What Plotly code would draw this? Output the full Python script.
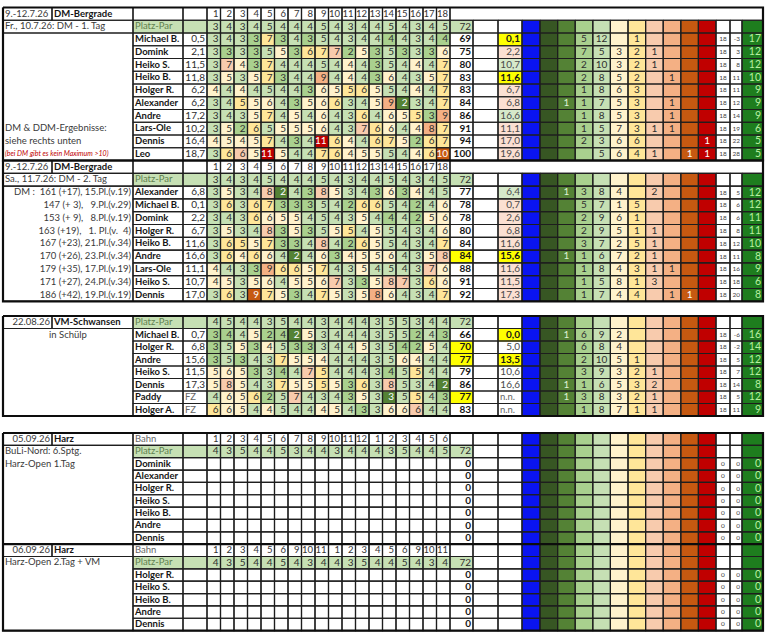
import plotly.graph_objects as go

NBSP = "\u00a0"
FONT = "Lato"

# ---------------- values ----------------
holes_dm = ["1", "2", "3", "4", "5", "6", "7", "8", "9", "10", "11", "12", "13", "14", "15", "16", "17", "18"]
par_dm = [3, 4, 3, 4, 5, 4, 4, 4, 5, 4, 3, 4, 4, 5, 4, 3, 4, 5]

# DM Bergrade, 1. Tag
day1_date = "9.-12.7.26"
day1_event = "DM-Bergrade"
day1_label = "Fr., 10.7.26: DM - 1. Tag"
day1_notes = ["DM & DDM-Ergebnisse:", "siehe rechts unten", "(bei DM gibt es kein Maximum >10)"]
day1_names = ["Michael B.", "Domink", "Heiko S.", "Heiko B.", "Holger R.",
              "Alexander", "Andre", "Lars-Ole", "Dennis", "Leo"]
day1_hcp = ["0,5", "2,1", "11,5", "11,8", "6,2", "6,2", "17,2", "10,2", "16,4", "18,7"]
day1_scores = [
    [3, 4, 3, 3, 7, 3, 4, 3, 5, 4, 3, 4, 4, 4, 4, 3, 4, 4],
    [3, 3, 3, 3, 5, 5, 3, 6, 7, 7, 2, 5, 3, 5, 3, 3, 3, 6],
    [3, 7, 4, 3, 7, 4, 4, 4, 5, 4, 4, 4, 3, 5, 4, 4, 4, 7],
    [3, 5, 3, 5, 7, 3, 4, 4, 9, 4, 4, 4, 3, 6, 4, 3, 5, 7],
    [4, 4, 4, 4, 5, 4, 4, 3, 6, 5, 5, 6, 5, 5, 4, 4, 4, 7],
    [3, 4, 5, 5, 6, 4, 3, 5, 6, 6, 3, 4, 5, 9, 2, 3, 4, 7],
    [3, 4, 3, 5, 7, 4, 5, 4, 6, 4, 3, 6, 4, 6, 5, 5, 3, 9],
    [3, 5, 2, 6, 5, 5, 5, 5, 6, 4, 3, 7, 6, 6, 4, 4, 8, 7],
    [4, 5, 4, 5, 7, 4, 3, 4, 11, 6, 4, 4, 6, 7, 5, 2, 6, 7],
    [3, 6, 6, 5, 11, 5, 4, 4, 7, 6, 4, 5, 5, 5, 4, 4, 6, 10],
]
day1_total = [69, 75, 80, 83, 83, 84, 86, 91, 94, 100]
day1_net = ["0,1", "2,2", "10,7", "11,6", "6,7", "6,8", "16,6", "11,1", "17,0", "19,6"]
# counts per column: HIO, Albatros, Eagle, Birdie, Par, Bogey, +2, +3, +4, +5, +6
day1_dist = [
    [None, None, None, 5, 12, None, 1, None, None, None, None],
    [None, None, None, 7, 5, 3, 2, 1, None, None, None],
    [None, None, None, 2, 10, 3, 2, 1, None, None, None],
    [None, None, None, 2, 8, 5, 2, None, 1, None, None],
    [None, None, None, 1, 8, 6, 3, None, None, None, None],
    [None, None, 1, 1, 7, 5, 3, None, 1, None, None],
    [None, None, None, 1, 8, 5, 3, None, 1, None, None],
    [None, None, None, 1, 5, 7, 3, 1, 1, None, None],
    [None, None, None, 2, 3, 6, 6, None, None, None, 1],
    [None, None, None, None, 5, 6, 4, 1, None, 1, 1],
]
day1_played = [18, 18, 18, 18, 18, 18, 18, 18, 18, 18]
day1_topar = [-3, 3, 8, 11, 11, 12, 14, 19, 22, 28]
day1_points = [17, 12, 12, 10, 9, 9, 9, 6, 5, 5]

# DM Bergrade, 2. Tag
day2_date = "9.-12.7.26"
day2_event = "DM-Bergrade"
day2_label = "Sa., 11.7.26: DM - 2. Tag"
day2_dm = ["DM :  161 (+17), 15.Pl.(v.19)", "147 (+ 3),   9.Pl.(v.29)", "153 (+ 9),   8.Pl.(v.19)",
           "163 (+19),   1. Pl.(v.  4)", "167 (+23), 21.Pl.(v.34)", "170 (+26), 23.Pl.(v.34)",
           "179 (+35), 17.Pl.(v.19)", "171 (+27), 24.Pl.(v.34)", "186 (+42), 19.Pl.(v.19)"]
day2_names = ["Alexander", "Michael B.", "Domink", "Holger R.", "Heiko B.",
              "Andre", "Lars-Ole", "Heiko S.", "Dennis"]
day2_hcp = ["6,8", "0,1", "2,2", "6,7", "11,6", "16,6", "11,1", "10,7", "17,0"]
day2_scores = [
    [3, 5, 3, 4, 8, 2, 4, 3, 8, 5, 3, 4, 3, 6, 3, 4, 4, 5],
    [3, 6, 3, 6, 7, 3, 3, 3, 5, 4, 2, 6, 6, 5, 4, 2, 4, 6],
    [3, 4, 3, 6, 6, 5, 5, 4, 5, 4, 3, 5, 4, 4, 4, 2, 5, 6],
    [3, 5, 3, 4, 8, 3, 5, 3, 5, 5, 5, 4, 5, 5, 4, 3, 4, 6],
    [3, 6, 5, 5, 7, 3, 3, 4, 8, 4, 2, 6, 5, 5, 4, 3, 4, 7],
    [3, 6, 4, 6, 6, 4, 2, 4, 6, 3, 4, 5, 5, 6, 4, 3, 5, 8],
    [4, 4, 3, 3, 9, 6, 6, 5, 7, 4, 3, 5, 4, 5, 4, 3, 7, 6],
    [4, 5, 3, 5, 6, 4, 5, 5, 6, 7, 3, 3, 5, 8, 7, 3, 6, 6],
    [3, 6, 3, 9, 7, 5, 3, 4, 7, 5, 3, 5, 8, 6, 4, 3, 4, 7],
]
day2_total = [77, 78, 78, 80, 84, 84, 88, 91, 92]
day2_net = ["6,4", "0,7", "2,6", "6,8", "11,6", "15,6", "11,6", "11,5", "17,3"]
day2_dist = [
    [None, None, 1, 3, 8, 4, None, 2, None, None, None],
    [None, None, None, 5, 7, 1, 5, None, None, None, None],
    [None, None, None, 2, 9, 6, 1, None, None, None, None],
    [None, None, None, 2, 9, 5, 1, 1, None, None, None],
    [None, None, None, 3, 7, 2, 5, 1, None, None, None],
    [None, None, 1, 1, 6, 7, 2, 1, None, None, None],
    [None, None, None, 1, 8, 4, 3, 1, 1, None, None],
    [None, None, None, 1, 5, 8, 1, 3, None, None, None],
    [None, None, None, 1, 7, 4, 4, None, 1, 1, None],
]
day2_played = [18, 18, 18, 18, 18, 18, 18, 18, 18]
day2_topar = [5, 6, 6, 8, 12, 11, 16, 18, 20]
day2_points = [12, 12, 11, 11, 10, 8, 9, 6, 8]

# VM Schwansen
vm_date = "22.08.26"
vm_event = "VM-Schwansen"
vm_place = "in Schülp"
par_vm = [4, 5, 4, 4, 3, 5, 4, 4, 3, 4, 4, 4, 3, 5, 5, 3, 4, 4]
vm_names = ["Michael B.", "Holger R.", "Andre", "Heiko S.", "Dennis", "Paddy", "Holger A."]
vm_hcp = ["0,7", "6,8", "15,6", "11,5", "17,3", "FZ", "FZ"]
vm_scores = [
    [3, 4, 4, 5, 2, 4, 2, 5, 3, 4, 4, 4, 3, 5, 5, 2, 4, 3],
    [3, 5, 5, 3, 4, 5, 3, 3, 3, 4, 4, 5, 3, 5, 4, 2, 5, 4],
    [3, 5, 3, 4, 3, 7, 5, 5, 4, 4, 4, 4, 3, 5, 6, 4, 4, 4],
    [5, 6, 5, 3, 3, 4, 4, 7, 5, 4, 4, 4, 3, 4, 5, 5, 4, 4],
    [5, 8, 5, 4, 3, 7, 5, 5, 5, 5, 3, 6, 3, 8, 5, 3, 4, 2],
    [4, 6, 5, 6, 2, 5, 7, 4, 3, 4, 3, 5, 3, 3, 5, 5, 4, 3],
    [6, 6, 5, 4, 4, 5, 4, 4, 4, 5, 4, 3, 3, 6, 6, 6, 4, 4],
]
vm_total = [66, 70, 77, 79, 86, 77, 83]
vm_net = ["0,0", "5,0", "13,5", "10,6", "16,6", "n.n.", "n.n."]
vm_dist = [
    [None, None, 1, 6, 9, 2, None, None, None, None, None],
    [None, None, None, 6, 8, 4, None, None, None, None, None],
    [None, None, None, 2, 10, 5, 1, None, None, None, None],
    [None, None, None, 3, 9, 3, 2, 1, None, None, None],
    [None, None, 1, 1, 6, 5, 3, 2, None, None, None],
    [None, None, 1, 3, 8, 3, 2, 1, None, None, None],
    [None, None, None, 1, 8, 7, 1, 1, None, None, None],
]
vm_played = [18, 18, 18, 18, 18, 18, 18]
vm_topar = [-6, -2, 5, 7, 14, 5, 11]
vm_points = [16, 14, 12, 12, 8, 12, 9]

# Harz, day 1 and day 2 (not played yet)
harz1_date = "05.09.26"
harz1_lines = ["BuLi-Nord: 6.Sptg.", "Harz-Open 1.Tag"]
harz1_holes = ["1", "2", "3", "4", "5", "6", "7", "8", "9", "10", "11", "12", "1", "2", "3", "4", "5", "6"]
harz1_par = [4, 3, 5, 4, 4, 5, 3, 4, 4, 3, 4, 4, 4, 3, 5, 4, 4, 5]
harz1_names = ["Dominik", "Alexander", "Holger R.", "Heiko S.", "Heiko B.", "Andre", "Dennis"]
harz2_date = "06.09.26"
harz2_lines = ["Harz-Open 2.Tag + VM"]
harz2_holes = ["1", "2", "3", "4", "5", "6", "9", "10", "11", "1", "2", "3", "4", "5", "6", "9", "10", "11"]
harz2_par = [4, 3, 5, 4, 4, 5, 4, 3, 4, 4, 3, 5, 4, 4, 5, 4, 3, 4]
harz2_names = ["Holger R.", "Heiko S.", "Heiko B.", "Andre", "Dennis"]
harz_event = "Harz"

# highlight styles (conditional formats in the sheet)
day1_net_mark = ["y", "p", "g", "y", "p", "p", "g", "p", "p", "p"]
day2_net_mark = ["g", "p", "p", "p", "p", "y", "p", "p", "p"]
day2_total_mark = ["w", "w", "w", "w", "w", "y", "w", "w", "w"]
vm_net_mark = ["y", "w", "y", "w", "w", "w", "w"]
vm_total_mark = ["w", "y", "y", "w", "w", "y", "w"]

# ---------------- styling ----------------
WHITE = "#ffffff"
PAR_FILL = "#c6e0b4"
SCORE_FILL = {-3: "#375623", -2: "#548235", -1: "#a9d08e", 0: "#c6e0b4", 1: "#fff2cc",
              2: "#ffe699", 3: "#f8cbad", 4: "#f4b084", 5: "#c65911", 6: "#c00000"}
LEGEND_FILL = ["#0a14f0", "#375623", "#548235", "#a9d08e", "#c6e0b4", "#fff2cc",
               "#ffe699", "#f8cbad", "#f4b084", "#c65911", "#c00000"]
PTS_FILL = "#1e7d1e"
MARK_FILL = {"y": "#ffff00", "p": "#fbe0d2", "g": "#d6e9ca", "w": WHITE}

STYLES = {
    "n": dict(color="#2e2e2e", size=10),
    "b": dict(color="#161616", size=9.5, weight="bold"),
    "tot": dict(color="#161616", size=10, weight="bold"),
    "hdr": dict(color="#333333", size=9.5),
    "pp": dict(color="#5f7f4f", size=9.5),
    "gray": dict(color="#666666", size=9.5),
    "lbl": dict(color="#3a3a3a", size=9.5),
    "w": dict(color="#ffffff", size=10),
    "net": dict(color="#4a4a4a", size=10),
    "netb": dict(color="#161616", size=10, weight="bold"),
    "sm": dict(color="#444444", size=6.5),
    "pts": dict(color="#b8f0a0", size=10.5),
    "dl": dict(color="#dff2d4", size=10),
    "red": dict(color="#c00000", size=7, style="italic"),
}

# column widths (px) : date, event, name, hcp, 18 holes, total, blank, net, legend..., holes, +/-, points
col_w = [49, 81, 50, 24] + [13.5] * 18 + [23, 25, 24, 18] + [17.6] * 10 + [14, 12, 21]
x_edges = [3.0]
for w in col_w:
    x_edges.append(x_edges[-1] + w)
NC = len(col_w)
C_NAME, C_HCP, C_H1, C_TOT, C_BLANK, C_NET, C_LEG, C_N, C_TP, C_PTS = 2, 3, 4, 22, 23, 24, 25, 36, 37, 38

row_h = []


def block(n, h):
    start = len(row_h)
    row_h.extend([h] * n)
    return start


s1 = block(12, 12.75)
s2 = block(11, 12.8)
block(1, 14.7)
s3 = block(8, 12.5)
block(1, 17.0)
s4 = block(16, 12.35)
y_edges = [7.5]
for h in row_h:
    y_edges.append(y_edges[-1] + h)

palette = []
z = [[None] * NC for _ in row_h]
thin = ([], [])
thick = ([], [])
texts = {}


def rect(store, r0, r1, c0, c1):
    x0, x1 = x_edges[c0], x_edges[c1 + 1]
    y0, y1 = y_edges[r0], y_edges[r1 + 1]
    store[0].extend([x0, x1, x1, x0, x0, None])
    store[1].extend([y0, y0, y1, y1, y0, None])


def put_text(r, c0, c1, txt, align="r", style="n"):
    y = (y_edges[r] + y_edges[r + 1]) / 2 + 0.4
    if align == "l":
        x = x_edges[c0] + 2
    elif align == "r":
        x = x_edges[c1 + 1] - 2
    else:
        x = (x_edges[c0] + x_edges[c1 + 1]) / 2
    texts.setdefault((style, align), []).append((x, y, txt.replace(" ", NBSP)))


def cell(r, c, fill, txt=None, align="r", style="n", r1=None, c1=None):
    r1 = r if r1 is None else r1
    c1 = c if c1 is None else c1
    if fill not in palette:
        palette.append(fill)
    k = palette.index(fill)
    for rr in range(r, r1 + 1):
        for cc in range(c, c1 + 1):
            z[rr][cc] = k
    rect(thin, r, r1, c, c1)
    if txt is not None:
        put_text(r, c, c1, str(txt), align, style)


def right_block(r, total=None, total_fill=WHITE, total_style="tot", net=None, net_fill=WHITE,
                dist=None, played=None, topar=None, pts=None):
    cell(r, C_TOT, total_fill, total, style=total_style)
    cell(r, C_BLANK, WHITE)
    if net is not None and not net[0].isdigit():
        cell(r, C_NET, net_fill, net, align="l", style="gray")
    else:
        cell(r, C_NET, net_fill, net, style="netb" if net_fill == MARK_FILL["y"] else "net")
    for k, col in enumerate(LEGEND_FILL):
        v = dist[k] if dist else None
        st = "dl" if k in (1, 2) else ("w" if k in (0, 9, 10) else "n")
        cell(r, C_LEG + k, col, v, align="c", style=st)
    cell(r, C_N, WHITE, played, align="c", style="sm")
    cell(r, C_TP, WHITE, topar, align="r", style="sm")
    cell(r, C_PTS, PTS_FILL, pts, align="r", style="pts")


def header_row(r, labels, merged_right, label=None):
    cell(r, C_NAME, WHITE, label, align="l", style="gray")
    cell(r, C_HCP, WHITE)
    for i, lab in enumerate(labels):
        cell(r, C_H1 + i, WHITE, lab, style="hdr")
    if merged_right:
        cell(r, C_TOT, WHITE, c1=C_PTS)
    else:
        right_block(r)


def par_row(r, par):
    cell(r, C_NAME, PAR_FILL, "Platz-Par", align="l", style="pp")
    cell(r, C_HCP, PAR_FILL)
    for i, p in enumerate(par):
        cell(r, C_H1 + i, PAR_FILL, p)
    right_block(r, total=sum(par), total_fill=PAR_FILL, total_style="n")


def player_row(r, name, hcp, scores, par, total, total_fill, net, net_fill, dist, played, topar, pts):
    cell(r, C_NAME, WHITE, name, align="l", style="b")
    if hcp is None or hcp[0].isdigit():
        cell(r, C_HCP, WHITE, hcp, style="n")
    else:
        cell(r, C_HCP, WHITE, hcp, align="l", style="gray")
    for i in range(18):
        s = scores[i] if scores else None
        if s is None:
            cell(r, C_H1 + i, WHITE)
        else:
            d = max(-3, min(6, s - par[i]))
            cell(r, C_H1 + i, SCORE_FILL[d], s, style="w" if (d <= -2 or d >= 5) else "n")
    right_block(r, total, total_fill, "tot", net, net_fill, dist, played, topar, pts)


# --- section 1: DM day 1
cell(s1, 0, WHITE, day1_date, align="l", style="lbl")
cell(s1, 1, WHITE, day1_event, align="l", style="b")
header_row(s1, holes_dm, True)
cell(s1 + 1, 0, WHITE, day1_label, align="l", style="lbl", c1=1)
par_row(s1 + 1, par_dm)
cell(s1 + 2, 0, WHITE, r1=s1 + 11, c1=1)
put_text(s1 + 9, 0, 1, day1_notes[0], "l", "lbl")
put_text(s1 + 10, 0, 1, day1_notes[1], "l", "lbl")
put_text(s1 + 11, 0, 1, day1_notes[2], "l", "red")
for i, nm in enumerate(day1_names):
    player_row(s1 + 2 + i, nm, day1_hcp[i], day1_scores[i], par_dm, day1_total[i], WHITE,
               day1_net[i], MARK_FILL[day1_net_mark[i]], day1_dist[i],
               day1_played[i], day1_topar[i], day1_points[i])
rect(thick, s1, s1 + 11, 0, NC - 1)

# --- section 2: DM day 2
cell(s2, 0, WHITE, day2_date, align="l", style="lbl")
cell(s2, 1, WHITE, day2_event, align="l", style="b")
header_row(s2, holes_dm, True)
cell(s2 + 1, 0, WHITE, day2_label, align="l", style="lbl", c1=1)
par_row(s2 + 1, par_dm)
cell(s2 + 2, 0, WHITE, r1=s2 + 10, c1=1)
for i, line in enumerate(day2_dm):
    put_text(s2 + 2 + i, 0, 1, line, "r", "lbl")
for i, nm in enumerate(day2_names):
    player_row(s2 + 2 + i, nm, day2_hcp[i], day2_scores[i], par_dm, day2_total[i],
               MARK_FILL[day2_total_mark[i]], day2_net[i], MARK_FILL[day2_net_mark[i]],
               day2_dist[i], day2_played[i], day2_topar[i], day2_points[i])
rect(thick, s2, s2 + 10, 0, NC - 1)

# --- section 3: VM
cell(s3, 0, WHITE, vm_date, align="r", style="lbl")
cell(s3, 1, WHITE, vm_event, align="l", style="b")
par_row(s3, par_vm)
cell(s3 + 1, 0, WHITE, r1=s3 + 7, c1=1)
put_text(s3 + 1, 0, 1, vm_place, "c", "lbl")
for i, nm in enumerate(vm_names):
    player_row(s3 + 1 + i, nm, vm_hcp[i], vm_scores[i], par_vm, vm_total[i],
               MARK_FILL[vm_total_mark[i]], vm_net[i], MARK_FILL[vm_net_mark[i]],
               vm_dist[i], vm_played[i], vm_topar[i], vm_points[i])
rect(thick, s3, s3 + 7, 0, NC - 1)

# --- section 4: Harz (two days)
r = s4
for date, lines, labels, par, names in [(harz1_date, harz1_lines, harz1_holes, harz1_par, harz1_names),
                                        (harz2_date, harz2_lines, harz2_holes, harz2_par, harz2_names)]:
    cell(r, 0, WHITE, date, align="r", style="lbl")
    cell(r, 1, WHITE, harz_event, align="l", style="b")
    header_row(r, labels, False, "Bahn")
    cell(r + 1, 0, WHITE, r1=r + 1 + len(names), c1=1)
    for j, line in enumerate(lines):
        put_text(r + 1 + j, 0, 1, line, "l", "lbl")
    par_row(r + 1, par)
    for i, nm in enumerate(names):
        player_row(r + 2 + i, nm, None, None, par, 0, WHITE, None, WHITE, None, 0, 0, 0)
    if r != s4:
        thick[0].extend([x_edges[0], x_edges[-1], None])
        thick[1].extend([y_edges[r], y_edges[r], None])
    r += 2 + len(names)
rect(thick, s4, s4 + 15, 0, NC - 1)

# ---------------- figure ----------------
fig = go.Figure()
N = len(palette)
scale = []
for i, c in enumerate(palette):
    scale += [[i / N, c], [(i + 1) / N, c]]
zz = [[None if v is None else v + 0.5 for v in row] for row in z]
fig.add_trace(go.Heatmap(x=x_edges, y=y_edges, z=zz, colorscale=scale, zmin=0, zmax=N,
                         showscale=False, hoverinfo="skip"))
fig.add_trace(go.Scatter(x=thin[0], y=thin[1], mode="lines", line=dict(color="#1e1e1e", width=1.2),
                         hoverinfo="skip"))
fig.add_trace(go.Scatter(x=thick[0], y=thick[1], mode="lines", line=dict(color="#0d0d0d", width=2.2),
                         hoverinfo="skip"))

POS = {"l": "middle right", "r": "middle left", "c": "middle center"}
for (style, align), items in texts.items():
    st = STYLES[style]
    fig.add_trace(go.Scatter(
        x=[t[0] for t in items], y=[t[1] for t in items], text=[t[2] for t in items],
        mode="text", textposition=POS[align], hoverinfo="skip", cliponaxis=False,
        textfont=dict(family=FONT, size=st["size"], color=st["color"],
                      weight=st.get("weight", "normal"), style=st.get("style", "normal"))))

fig.update_layout(
    width=768, height=640,
    margin=dict(l=0, r=0, t=0, b=0),
    paper_bgcolor="white", plot_bgcolor="white",
    showlegend=False,
    xaxis=dict(range=[0, 768], visible=False, fixedrange=True),
    yaxis=dict(range=[640, 0], visible=False, fixedrange=True),
)

fig.write_html("out.html", config={"displayModeBar": False},
               post_script="document.body.style.margin='0px';")
